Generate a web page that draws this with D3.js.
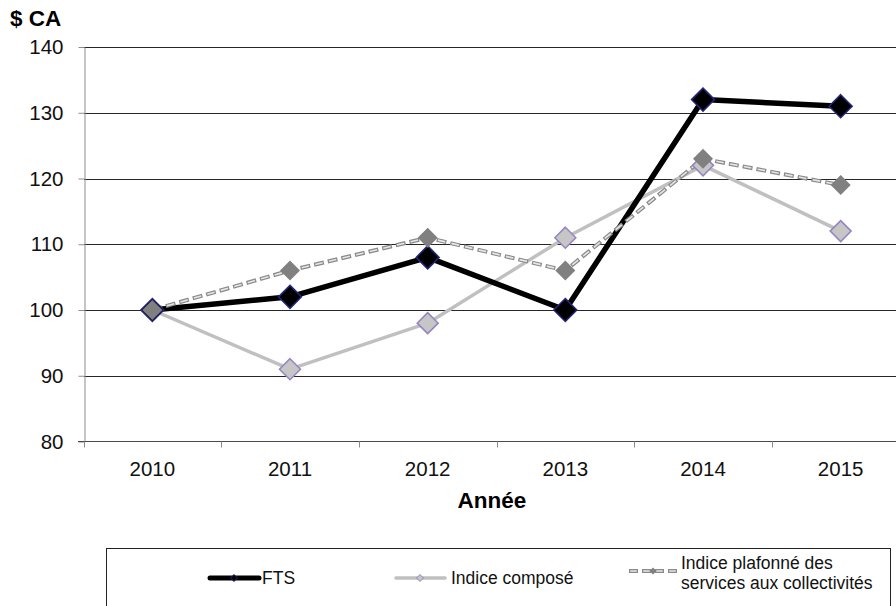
<!DOCTYPE html>
<html>
<head>
<meta charset="utf-8">
<script src="https://cdn.jsdelivr.net/npm/d3@7"></script>
<style>
  html, body { margin: 0; padding: 0; background: #fff; }
  svg { display: block; font-family: "Liberation Sans", Arial, sans-serif; }
</style>
</head>
<body>
<svg id="chart" width="896" height="606"></svg>
<script>
// Années et séries (indice, base 2010 = 100)
const years = ["2010", "2011", "2012", "2013", "2014", "2015"];
const ftsValues = [100, 102, 108, 100, 132, 131];
const compositeValues = [100, 91, 98, 111, 122, 112];
const cappedValues = [100, 106, 111, 106, 123, 119];
const yTicks = [80, 90, 100, 110, 120, 130, 140];
const seriesNames = ["FTS", "Indice composé", "Indice plafonné des", "services aux collectivités"];

const svg = d3.select("#chart");

const x = d3.scaleBand().domain(years).range([83.5, 909.5]);
const y = d3.scaleLinear().domain([80, 140]).range([441.5, 47]);
const cx = d => x(d) + x.bandwidth() / 2;

// Horizontal gridlines
svg.append("g")
  .selectAll("line")
  .data(yTicks.filter(t => t > 80))
  .join("line")
  .attr("x1", 84).attr("x2", 896)
  .attr("y1", d => Math.round(y(d)) + 0.5).attr("y2", d => Math.round(y(d)) + 0.5)
  .attr("stroke", "#262626").attr("stroke-width", 1);

// Y axis
const yAxis = svg.append("g")
  .attr("transform", "translate(84.5,0)")
  .call(d3.axisLeft(y).tickValues(yTicks).tickSize(6).tickPadding(15).tickSizeOuter(0));
yAxis.select(".domain").attr("stroke", "#8c8c8c");
yAxis.selectAll(".tick line").attr("stroke", "#8c8c8c");
yAxis.selectAll(".tick text")
  .attr("font-size", 20.5).attr("fill", "#111")
  .attr("font-family", "Liberation Sans, Arial, sans-serif");

// X axis with ticks on category boundaries
const xAxisG = svg.append("g").attr("transform", "translate(0,441.5)");
xAxisG.append("line")
  .attr("x1", 78).attr("x2", 896).attr("y1", 0).attr("y2", 0)
  .attr("stroke", "#4a4a4a").attr("stroke-width", 1.2);
xAxisG.selectAll("line.tk")
  .data(years)
  .join("line").attr("class", "tk")
  .attr("x1", d => Math.round(x(d)) + 0.5).attr("x2", d => Math.round(x(d)) + 0.5)
  .attr("y1", 0).attr("y2", 6)
  .attr("stroke", "#8c8c8c");
xAxisG.selectAll("text")
  .data(years)
  .join("text")
  .attr("x", cx).attr("y", 34)
  .attr("text-anchor", "middle")
  .attr("font-size", 20.5).attr("fill", "#111")
  .text(d => d);

// Axis titles
svg.append("text").attr("x", 10).attr("y", 26)
  .attr("font-size", 22.5).attr("font-weight", "bold").attr("fill", "#000")
  .text("$ CA");
svg.append("text").attr("x", 492).attr("y", 508)
  .attr("text-anchor", "middle")
  .attr("font-size", 22.5).attr("font-weight", "bold").attr("fill", "#000")
  .text("Année");

const line = d3.line().x((d, i) => cx(years[i])).y(d => y(d));
const diamond = (r) => `M0,${-r}L${r},0L0,${r}L${-r},0Z`;

// Indice composé
svg.append("path").datum(compositeValues)
  .attr("d", line).attr("fill", "none")
  .attr("stroke", "#c0c0c0").attr("stroke-width", 3.5).attr("stroke-linejoin", "round");

// FTS
svg.append("path").datum(ftsValues)
  .attr("d", line).attr("fill", "none")
  .attr("stroke", "#000").attr("stroke-width", 5.5).attr("stroke-linejoin", "round");

// Indice plafonné: hollow dashes
const capped = svg.append("g");
capped.append("path").datum(cappedValues)
  .attr("d", line).attr("fill", "none")
  .attr("stroke", "#8a8a8a").attr("stroke-width", 4)
  .attr("stroke-dasharray", "10,4");
capped.append("path").datum(cappedValues)
  .attr("d", line).attr("fill", "none")
  .attr("stroke", "#e6e6e6").attr("stroke-width", 1.6)
  .attr("stroke-dasharray", "7.6,6.4").attr("stroke-dashoffset", -1.2);

// Markers
svg.append("g").selectAll("path")
  .data(compositeValues)
  .join("path")
  .attr("transform", (d, i) => `translate(${cx(years[i])},${y(d)})`)
  .attr("d", diamond(10.5))
  .attr("fill", "#c6c6c6").attr("stroke", "#9584bf").attr("stroke-width", 1.5);

svg.append("g").selectAll("path")
  .data(ftsValues)
  .join("path")
  .attr("transform", (d, i) => `translate(${cx(years[i])},${y(d)})`)
  .attr("d", diamond(11.5))
  .attr("fill", "#000").attr("stroke", "#24247a").attr("stroke-width", 1.5);

svg.append("g").selectAll("path")
  .data(cappedValues)
  .join("path")
  .attr("transform", (d, i) => `translate(${cx(years[i])},${y(d)})`)
  .attr("d", diamond(10))
  .attr("fill", "#808080");

// Legend
const lg = svg.append("g");
lg.append("rect")
  .attr("x", 106.5).attr("y", 548.5).attr("width", 784).attr("height", 100)
  .attr("fill", "#fff").attr("stroke", "#222").attr("stroke-width", 1);

// FTS entry
lg.append("line").attr("x1", 210).attr("x2", 259).attr("y1", 578).attr("y2", 578)
  .attr("stroke", "#000").attr("stroke-width", 5).attr("stroke-linecap", "round");
lg.append("path").attr("transform", "translate(234,578)").attr("d", diamond(3.5))
  .attr("fill", "#000").attr("stroke", "#24247a").attr("stroke-width", 1);
lg.append("text").attr("x", 262).attr("y", 584).attr("font-size", 17.5).attr("fill", "#111").text(seriesNames[0]);

// Indice composé entry
lg.append("line").attr("x1", 396).attr("x2", 445).attr("y1", 578).attr("y2", 578)
  .attr("stroke", "#c0c0c0").attr("stroke-width", 3.5).attr("stroke-linecap", "round");
lg.append("path").attr("transform", "translate(420,578)").attr("d", diamond(3.5))
  .attr("fill", "#c6c6c6").attr("stroke", "#9584bf").attr("stroke-width", 1);
lg.append("text").attr("x", 451).attr("y", 584).attr("font-size", 17.5).attr("fill", "#111").text(seriesNames[1]);

// Indice plafonné entry
lg.append("line").attr("x1", 629).attr("x2", 677).attr("y1", 571).attr("y2", 571)
  .attr("stroke", "#8a8a8a").attr("stroke-width", 4).attr("stroke-dasharray", "9,4");
lg.append("line").attr("x1", 629).attr("x2", 677).attr("y1", 571).attr("y2", 571)
  .attr("stroke", "#e6e6e6").attr("stroke-width", 1.6)
  .attr("stroke-dasharray", "6.6,6.4").attr("stroke-dashoffset", -1.2);
lg.append("path").attr("transform", "translate(653,571)").attr("d", diamond(3.5))
  .attr("fill", "#808080");
lg.append("text").attr("x", 681).attr("y", 569).attr("font-size", 17.5).attr("fill", "#111").text(seriesNames[2]);
lg.append("text").attr("x", 681).attr("y", 589).attr("font-size", 17.5).attr("fill", "#111").text(seriesNames[3]);
</script>
</body>
</html>
